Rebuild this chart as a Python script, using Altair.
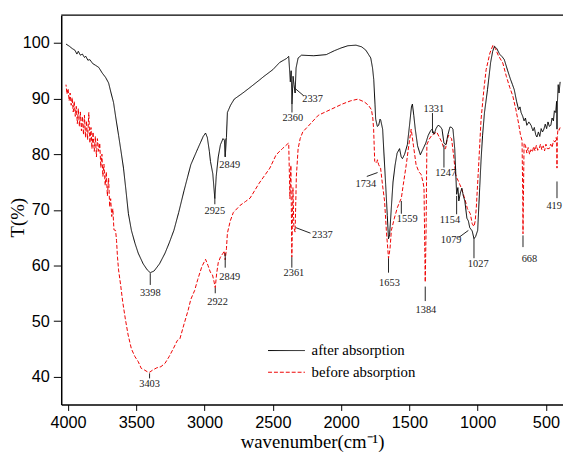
import altair as alt
import pandas as pd

# ---- spectrum data (wavenumber cm^-1, transmittance %) ----
after_wn = [4015, 3990, 3970, 3950, 3935, 3925, 3910, 3895, 3880, 3870, 3855, 3840, 3820, 3800,
            3775, 3750, 3725, 3703, 3685, 3667, 3650, 3630, 3612, 3594, 3576, 3558, 3536, 3510,
            3486, 3450, 3420, 3398, 3370, 3330, 3290, 3260, 3225, 3190, 3150, 3101, 3050, 3010,
            2993, 2980, 2965, 2957, 2940, 2925, 2915, 2900, 2884, 2865, 2855, 2849, 2840, 2833,
            2810, 2783, 2720, 2667, 2600, 2565, 2500, 2450, 2400, 2384, 2372, 2366, 2360, 2352,
            2345, 2337, 2330, 2315, 2290, 2200, 2109, 2050, 2000, 1950, 1891, 1850, 1819, 1783,
            1770, 1761, 1752, 1747, 1735, 1725, 1715, 1710, 1696, 1685, 1674, 1662, 1653, 1645,
            1632, 1620, 1605, 1590, 1572, 1560, 1551, 1535, 1515, 1500, 1485, 1478, 1468, 1457,
            1440, 1420, 1399, 1380, 1362, 1345, 1334, 1319, 1305, 1290, 1275, 1261, 1247, 1232,
            1218, 1203, 1190, 1181, 1168, 1154, 1145, 1138, 1127, 1116, 1105, 1094, 1079, 1068,
            1058, 1040, 1027, 1015, 1000, 985, 975, 964, 950, 928, 905, 890, 877, 860, 840, 820,
            805, 780, 760, 745, 732, 715, 700, 690, 682, 670, 660, 650, 640, 625, 609, 595, 585,
            575, 566, 555, 545, 535, 525, 515, 505, 495, 485, 475, 464, 455, 445, 438, 428, 422,
            419, 416, 410, 404, 396]
after_t = [99.8, 99.4, 99.0, 98.7, 98.0, 98.5, 97.8, 98.0, 97.4, 97.6, 96.9, 97.0, 96.3, 96.0,
           95.6, 94.6, 93.8, 92.8, 91.0, 89.3, 86.5, 83.4, 80.5, 77.5, 73.5, 69.3, 66.3, 64.0,
           62.2, 60.3, 59.2, 58.7, 59.0, 60.3, 62.2, 64.0, 66.3, 69.5, 73.5, 78.1, 81.0, 83.2,
           83.8, 83.0, 80.5, 78.7, 76.5, 72.0, 76.0, 79.5, 81.7, 82.8, 82.5, 79.5, 83.0, 87.5,
           88.8, 89.9, 91.0, 92.0, 93.3, 94.0, 95.2, 96.5, 97.2, 97.6, 93.0, 95.0, 89.0, 94.0,
           92.5, 91.0, 95.5, 97.3, 97.8, 97.7, 97.9, 98.6, 99.1, 99.5, 99.6, 99.3, 98.7, 97.3,
           95.5, 93.4, 89.0, 86.3, 85.0, 85.2, 86.3, 86.1, 84.5, 79.5, 74.6, 69.0, 64.8, 65.5,
           70.5, 75.0, 78.0, 80.2, 81.0, 79.5, 79.2, 80.0, 81.7, 85.0, 88.5, 89.0, 87.0, 84.5,
           81.5, 79.9, 81.0, 82.0, 83.4, 84.2, 84.5, 83.6, 84.6, 85.2, 85.0, 84.5, 82.0, 81.7,
           83.5, 84.9, 84.8, 84.5, 81.0, 72.8, 74.0, 71.6, 73.0, 73.9, 72.5, 71.6, 68.5, 68.0,
           66.8, 66.2, 64.8, 65.2, 66.3, 74.0, 79.0, 83.4, 87.5, 91.6, 96.5, 98.5, 99.4, 99.0,
           98.0, 97.5, 97.0, 95.0, 93.5, 92.5, 91.6, 89.5, 88.0, 88.5, 87.5, 86.8, 86.0, 86.5,
           85.2, 85.8, 85.2, 84.2, 84.8, 83.5, 83.1, 84.0, 83.2, 84.6, 84.0, 84.5, 85.4, 84.6,
           85.8, 85.0, 85.2, 86.5, 86.0, 87.8, 87.5, 89.5, 84.5, 89.3, 92.5, 91.0, 93.0]

before_wn = [4015, 4008, 4000, 3992, 3985, 3977, 3970, 3962, 3955, 3947, 3940, 3932, 3925, 3917,
             3910, 3902, 3895, 3887, 3880, 3872, 3865, 3857, 3848, 3840, 3832, 3825, 3817, 3808,
             3800, 3792, 3785, 3775, 3768, 3760, 3752, 3745, 3737, 3728, 3720, 3712, 3703, 3695,
             3688, 3680, 3672, 3664, 3652, 3645, 3638, 3630, 3615, 3600, 3580, 3560, 3536, 3510,
             3486, 3464, 3440, 3420, 3403, 3380, 3350, 3320, 3290, 3260, 3230, 3200, 3181, 3150,
             3120, 3101, 3073, 3050, 3020, 2993, 2975, 2958, 2942, 2930, 2922, 2912, 2900, 2884,
             2865, 2855, 2849, 2840, 2833, 2812, 2790, 2740, 2700, 2667, 2600, 2522, 2476, 2430,
             2390, 2384, 2375, 2368, 2361, 2353, 2346, 2337, 2328, 2315, 2300, 2281, 2220, 2167,
             2080, 1993, 1930, 1877, 1830, 1800, 1778, 1768, 1762, 1754, 1740, 1734, 1725, 1711,
             1697, 1682, 1668, 1653, 1642, 1632, 1610, 1588, 1570, 1559, 1545, 1523, 1505, 1487,
             1470, 1451, 1430, 1415, 1400, 1393, 1384, 1378, 1372, 1355, 1336, 1318, 1300, 1280,
             1263, 1247, 1235, 1225, 1213, 1200, 1191, 1175, 1162, 1150, 1140, 1130, 1119, 1105,
             1090, 1075, 1054, 1040, 1027, 1018, 1010, 995, 975, 955, 938, 910, 888, 870, 850,
             816, 790, 765, 743, 720, 700, 686, 675, 670, 668, 665, 660, 650, 640, 630, 620, 610,
             599, 590, 580, 570, 560, 549, 540, 530, 520, 510, 500, 490, 476, 465, 455, 445, 433,
             425, 421, 419, 417, 412, 404, 396]
before_t = [92.5, 90.8, 91.8, 89.6, 91.0, 88.8, 90.2, 87.6, 89.5, 86.8, 88.6, 85.5, 88.2, 85.0,
            87.6, 84.2, 86.8, 83.5, 87.0, 83.0, 86.0, 82.6, 87.5, 82.0, 84.8, 81.0, 84.0, 80.5,
            83.2, 79.5, 82.8, 80.5, 82.0, 77.6, 80.0, 76.0, 78.2, 74.4, 76.8, 72.5, 75.7, 70.5,
            72.0, 68.8, 70.2, 66.4, 66.3, 64.5, 61.5, 59.2, 56.5, 53.5, 50.3, 47.5, 45.0, 43.6,
            42.7, 41.5, 41.2, 40.9, 40.8, 41.2, 41.6, 41.8, 42.4, 43.6, 45.0, 46.5, 46.8, 49.5,
            52.0, 53.9, 55.5, 57.5, 59.8, 61.1, 60.0, 58.8, 58.3, 57.0, 56.0, 58.5, 60.5, 61.5,
            62.2, 62.6, 61.0, 63.0, 65.8, 68.0, 69.5, 70.8, 71.5, 72.1, 74.8, 77.5, 79.9, 81.0,
            81.9, 82.0, 72.0, 78.0, 61.5, 74.0, 66.8, 66.0, 76.0, 81.0, 82.8, 84.0, 85.6, 87.0,
            88.0, 89.0, 89.6, 89.9, 89.4, 88.8, 88.0, 86.5, 84.5, 78.7, 78.4, 79.0, 78.1, 77.5,
            74.5, 71.6, 66.0, 61.3, 63.0, 66.3, 68.5, 70.4, 71.5, 72.1, 74.5, 78.1, 81.5, 84.5,
            81.5, 78.1, 76.8, 76.4, 75.0, 73.9, 57.0, 66.0, 81.7, 82.7, 83.4, 83.7, 84.0, 83.0,
            82.2, 81.0, 81.0, 82.5, 83.4, 83.0, 82.8, 79.5, 76.4, 75.6, 75.1, 74.5, 73.9, 72.8,
            71.6, 70.2, 69.3, 67.5, 67.0, 68.0, 70.4, 77.0, 86.3, 91.5, 95.2, 98.2, 99.6, 99.0,
            97.8, 96.4, 94.0, 92.0, 90.5, 88.0, 85.5, 83.4, 82.5, 73.0, 65.7, 72.0, 82.0, 81.6,
            80.2, 81.2, 80.0, 80.8, 80.4, 81.4, 80.6, 81.6, 80.7, 81.0, 81.8, 80.8, 81.5, 80.6,
            81.8, 81.0, 81.0, 81.8, 81.2, 82.4, 82.2, 83.0, 82.5, 77.5, 83.0, 84.5, 84.3, 84.8]

series_names = ["after absorption", "before absorption"]
series_colors = ["#000000", "#ee0000"]

# ---- peak annotations: label, text position, leader line (x1,y1)-(x2,y2) ----
ann_label = ["3398", "3403", "2925", "2849", "2849", "2922", "2360", "2337", "2361", "2337",
             "1734", "1559", "1653", "1384", "1331", "1247", "1154", "1079", "1027", "668", "419"]
ann_tx = [3398, 3403, 2925, 2816, 2816, 2905, 2354, 2209, 2346, 2137,
          1819, 1516, 1646, 1379, 1321, 1234, 1203, 1194, 996, 621, 440]
ann_ty = [55.0, 38.6, 69.8, 78.1, 58.0, 53.4, 86.5, 89.9, 58.7, 65.4,
          74.6, 68.4, 56.9, 52.0, 88.2, 76.6, 68.2, 64.5, 60.3, 61.1, 70.7]
ann_x1 = [3398, 3403, 2925, 2849, 2849, 2922, 2360, 2346, 2361, 2332,
          1812, 1559, 1653, 1384, 1331, 1247, 1154, 1140, 1027, 668, 419]
ann_y1 = [58.6, 40.6, 72.0, 82.8, 62.2, 56.0, 89.0, 92.0, 61.5, 66.8,
          76.0, 71.6, 61.3, 56.2, 87.4, 81.7, 72.5, 65.0, 64.8, 65.4, 75.1]
ann_x2 = [3398, 3403, 2925, 2849, 2849, 2922, 2360, 2274, 2361, 2224,
          1733, 1559, 1653, 1384, 1331, 1247, 1154, 1068, 1027, 668, 419]
ann_y2 = [56.5, 39.7, 71.0, 79.6, 59.6, 55.0, 87.5, 90.5, 59.6, 65.8,
          76.7, 69.3, 58.7, 53.6, 83.8, 77.6, 69.2, 66.3, 61.3, 63.3, 72.1]

x_ticks = [4000, 3750, 3500, 3250, 3000, 2750, 2500, 2250, 2000, 1750, 1500, 1250, 1000, 750, 500]
y_ticks = [40, 45, 50, 55, 60, 65, 70, 75, 80, 85, 90, 95, 100]

df = pd.concat([
    pd.DataFrame({"wn": after_wn, "T": after_t, "series": series_names[0]}),
    pd.DataFrame({"wn": before_wn, "T": before_t, "series": series_names[1]}),
])
ann = pd.DataFrame({"label": ann_label, "tx": ann_tx, "ty": ann_ty,
                    "x1": ann_x1, "y1": ann_y1, "x2": ann_x2, "y2": ann_y2})

xscale = alt.Scale(domain=[4050, 375], nice=False, zero=False)
yscale = alt.Scale(domain=[35, 105], nice=False, zero=False)

xaxis = alt.Axis(values=x_ticks, labelExpr="datum.value % 500 === 0 ? datum.label : ''",
                 format="d", grid=False, domainColor="black", tickColor="black",
                 tickSize={"condition": {"test": "datum.value % 500 === 0", "value": 6}, "value": 4},
                 labelFont="Liberation Sans", labelFontSize=16.5, labelColor="black", labelPadding=4,
                 title="wavenumber(cm⁻¹)", titleFont="Liberation Serif", titleFontSize=19,
                 titleFontWeight="normal", titleColor="black", titlePadding=2)
yaxis = alt.Axis(values=y_ticks, labelExpr="datum.value % 10 === 0 ? datum.label : ''",
                 grid=False, domainColor="black", tickColor="black",
                 tickSize={"condition": {"test": "datum.value % 10 === 0", "value": 8}, "value": 4},
                 labelFont="Liberation Sans", labelFontSize=16.5, labelColor="black", labelPadding=4,
                 title="T(%)", titleFont="Liberation Serif", titleFontSize=19,
                 titleFontWeight="normal", titleColor="black",
                 titleX=-34, titleY=205, titleAngle=270, titleBaseline="bottom", titleAlign="center")

legend_opts = dict(title=None, orient="none", legendX=209, legendY=329.5,
                   symbolType="stroke", symbolSize=1400, symbolStrokeWidth=1,
                   labelFont="Liberation Serif", labelFontSize=15,
                   labelColor="black", labelOffset=6, rowPadding=0, clipHeight=21.5)
color = alt.Color("series:N", scale=alt.Scale(domain=series_names, range=series_colors),
                  legend=alt.Legend(**legend_opts))
dash = alt.StrokeDash("series:N", scale=alt.Scale(domain=series_names, range=[[1, 0], [4, 2]]),
                      legend=alt.Legend(**legend_opts))

base = alt.Chart(df)
red = base.transform_filter(alt.datum.series == series_names[1]).mark_line(strokeWidth=1).encode(
    x=alt.X("wn:Q", scale=xscale, axis=xaxis),
    y=alt.Y("T:Q", scale=yscale, axis=yaxis),
    color=color, strokeDash=dash, order="wn:Q")
black = base.transform_filter(alt.datum.series == series_names[0]).mark_line(strokeWidth=1).encode(
    x=alt.X("wn:Q", scale=xscale), y=alt.Y("T:Q", scale=yscale),
    color=color, strokeDash=dash, order="wn:Q")

top = alt.Chart(pd.DataFrame({"T": [105]})).mark_rule(color="black", strokeWidth=1.5).encode(
    y=alt.Y("T:Q", scale=yscale))

leaders = alt.Chart(ann).mark_rule(color="#222222", strokeWidth=1).encode(
    x=alt.X("x1:Q", scale=xscale), x2="x2:Q",
    y=alt.Y("y1:Q", scale=yscale), y2="y2:Q")
labels = alt.Chart(ann).mark_text(font="Liberation Serif", fontSize=10.5, color="#222222",
                                  align="center", baseline="middle").encode(
    x=alt.X("tx:Q", scale=xscale), y=alt.Y("ty:Q", scale=yscale), text="label:N")

chart = alt.layer(red, black, top, leaders, labels).properties(
    width=509, height=395, autosize="none",
    padding={"left": 54, "top": 4, "right": 0, "bottom": 50},
).configure_view(stroke=None).configure_axis(domainWidth=1.5)

chart.save("out.html", embed_options={"renderer": "svg", "actions": False})
